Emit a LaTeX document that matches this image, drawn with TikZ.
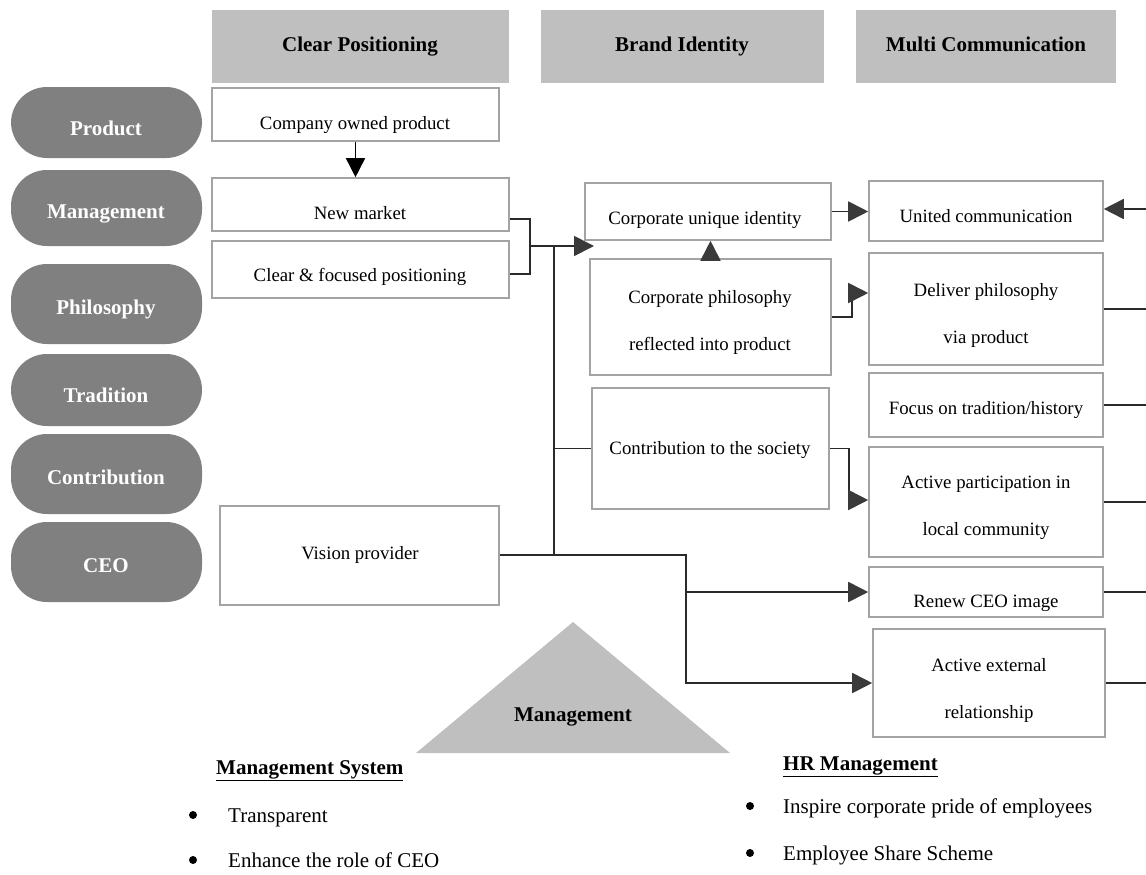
\documentclass[tikz,border=0pt]{standalone}
\usepackage{fontspec}
\setmainfont{Liberation Serif}
\usetikzlibrary{arrows.meta}
\definecolor{hdrgray}{HTML}{BFBFBF}
\definecolor{pillgray}{HTML}{808080}
\definecolor{boxline}{HTML}{A3A3A3}
\definecolor{linecol}{HTML}{2A2A2A}
\definecolor{headcol}{HTML}{3A3A3A}
\newcommand{\bxfont}{\fontsize{18.8}{22}\selectfont}
\newcommand{\bxfonttwo}{\fontsize{18.8}{47}\selectfont}
\newcommand{\hdfont}{\fontsize{21}{25}\selectfont\bfseries}
\newcommand{\lsfont}{\fontsize{21}{25}\selectfont}
\begin{document}
\begin{tikzpicture}[x=1pt,y=-1pt,
  hdr/.style={fill=hdrgray, draw=none, inner sep=0pt},
  pill/.style={fill=pillgray, draw=none, rounded corners=36pt, minimum width=191pt, inner sep=0pt},
  pilltxt/.style={font=\hdfont, text=white, anchor=mid, inner sep=0pt},
  box/.style={draw=boxline, line width=1.6pt, fill=white, inner sep=0pt},
  txt/.style={font=\bxfont, anchor=mid, inner sep=0pt},
  txttwo/.style={font=\bxfonttwo, align=center, inner sep=0pt},
  conn/.style={draw=linecol, line width=1.8pt},
  arrw/.style={draw=linecol, line width=1.8pt, -{Triangle[length=20pt,width=20pt,color=headcol]}},
  darr/.style={draw=black, line width=1.6pt, -{Triangle[length=19pt,width=19pt,color=black]}},
  dot/.style={circle, fill=black, inner sep=0pt, minimum size=8pt}]

\useasboundingbox (0,0) rectangle (1146,875);

% column headers
\node[hdr, minimum width=297pt, minimum height=73pt] (h1) at (360.5,46.5) {};
\node[hdr, minimum width=283pt, minimum height=73pt] (h2) at (682.5,46.5) {};
\node[hdr, minimum width=260pt, minimum height=73pt] (h3) at (986,46.5) {};
\node[font=\hdfont, anchor=mid] (h1t) at (360,49) {Clear Positioning};
\node[font=\hdfont, anchor=mid] (h2t) at (682,49) {Brand Identity};
\node[font=\hdfont, anchor=mid] (h3t) at (986,49) {Multi Communication};

% row labels
\node[pill, minimum height=71pt] (p1) at (106.5,122.5) {};
\node[pill, minimum height=76pt] (p2) at (106.5,208) {};
\node[pill, minimum height=80pt] (p3) at (106.5,304) {};
\node[pill, minimum height=72pt] (p4) at (106.5,390) {};
\node[pill, minimum height=80pt] (p5) at (106.5,474) {};
\node[pill, minimum height=80pt] (p6) at (106.5,562) {};
\node[pilltxt] (p1t) at (106,133) {Product};
\node[pilltxt] (p2t) at (106,216) {Management};
\node[pilltxt] (p3t) at (106,312) {Philosophy};
\node[pilltxt] (p4t) at (106,400) {Tradition};
\node[pilltxt] (p5t) at (106,482) {Contribution};
\node[pilltxt] (p6t) at (106,570) {CEO};

% boxes
\node[box, minimum width=287pt, minimum height=53pt] (cop) at (355.5,114.5) {};
\node[box, minimum width=297pt, minimum height=53pt] (nm) at (360.5,204.5) {};
\node[box, minimum width=297pt, minimum height=57pt] (cfp) at (360.5,269.5) {};
\node[box, minimum width=246pt, minimum height=57pt] (cui) at (708,211.5) {};
\node[box, minimum width=234pt, minimum height=60pt] (uc) at (986,211) {};
\node[box, minimum width=241pt, minimum height=116pt] (cpr) at (710.5,317) {};
\node[box, minimum width=234pt, minimum height=112pt] (dp) at (986,309) {};
\node[box, minimum width=234pt, minimum height=64pt] (ft) at (986,405) {};
\node[box, minimum width=237pt, minimum height=121pt] (cs) at (710.5,448.5) {};
\node[box, minimum width=234pt, minimum height=110pt] (ap) at (986,502) {};
\node[box, minimum width=279pt, minimum height=99pt] (vp) at (359.5,555.5) {};
\node[box, minimum width=234pt, minimum height=50pt] (rc) at (986,592) {};
\node[box, minimum width=232pt, minimum height=108pt] (aer) at (989,683) {};

% box texts
\node[txt] (copt) at (355,127) {Company owned product};
\node[txt] (nmt) at (360,217) {New market};
\node[txt] (cfpt) at (360,279) {Clear \& focused positioning};
\node[txt] (cuit) at (705,222) {Corporate unique identity};
\node[txt] (uct) at (986,220) {United communication};
\node[txttwo] (cprt) at (710,322) {Corporate philosophy\\reflected into product};
\node[txttwo] (dpt) at (986,315) {Deliver philosophy\\via product};
\node[txt] (ftt) at (986,412) {Focus on tradition/history};
\node[txt] (cst) at (710,452) {Contribution to the society};
\node[txttwo] (apt) at (986,508) {Active participation in\\local community};
\node[txt] (vpt) at (360,557) {Vision provider};
\begin{scope}
  \clip (869,567) rectangle (1103,610);
  \node[txt] (rct) at (986,605) {Renew CEO image};
\end{scope}
\node[txttwo] (aert) at (989,690) {Active external\\relationship};

% bend points of the connectors
\coordinate (b1) at (530,219);
\coordinate (b2) at (530,274);
\coordinate (b3) at (530,246);
\coordinate (tipA) at (594,246);
\coordinate (v1) at (554,246);
\coordinate (v2) at (554,555);
\coordinate (j2) at (686,683);
\coordinate (c1) at (852,293);
\coordinate (c2) at (849,500);
\coordinate (ucin) at (1146,209);
\coordinate (rim) at (1146,0);

% connectors
\draw[darr] (cop.south) -- (cop.south |- nm.north);
\draw[conn] (nm.east |- b1) -- (b1) -- (b2) -- (cfp.east |- b2);
\draw[arrw] (b3) -- (tipA);
\draw[conn] (v1) -- (v2);
\draw[conn] (v1 |- cs.west) -- (cs.west);
\draw[arrw] (vp.east |- v2) -| (j2) -- (aer.west);
\draw[arrw] (j2 |- rc.west) -- (rc.west);
\draw[arrw] (cui.east) -- (uc.west |- cui.east);
\draw[arrw] (ucin) -- (uc.east |- ucin);
\draw[arrw] (cpr.north) -- (cui.south -| cpr.north);
\draw[arrw] (cpr.east) -| (c1) -- (dp.west |- c1);
\draw[arrw] (cs.east) -| (c2) -- (ap.west |- c2);
\draw[conn, line width=1.6pt] (dp.east) -- (dp.east -| rim);
\draw[conn, line width=1.6pt] (ft.east) -- (ft.east -| rim);
\draw[conn, line width=1.6pt] (ap.east) -- (ap.east -| rim);
\draw[conn, line width=1.6pt] (rc.east) -- (rc.east -| rim);
\draw[conn, line width=1.6pt] (aer.east) -- (aer.east -| rim);

% management triangle
\fill[hdrgray] (573,622) -- (730,753) -- (416,753) -- cycle;
\node[font=\hdfont, anchor=mid] (mgt) at (573,719) {Management};

% lists
\node[font=\hdfont, anchor=mid west, inner sep=0pt] (msys) at (216,772) {\underline{Management System}};
\node[dot] (d1) at (193,815) {};
\node[font=\lsfont, anchor=mid west, inner sep=0pt] (l1) at (228,820) {Transparent};
\node[dot] (d2) at (193,860) {};
\node[font=\lsfont, anchor=mid west, inner sep=0pt] (l2) at (228,865) {Enhance the role of CEO};

\node[font=\hdfont, anchor=mid west, inner sep=0pt] (hrm) at (783,768) {\underline{HR Management}};
\node[dot] (d3) at (750,806) {};
\node[font=\lsfont, anchor=mid west, inner sep=0pt] (l3) at (783,811) {Inspire corporate pride of employees};
\node[dot] (d4) at (750,853) {};
\node[font=\lsfont, anchor=mid west, inner sep=0pt] (l4) at (783,858) {Employee Share Scheme};
\end{tikzpicture}
\end{document}
